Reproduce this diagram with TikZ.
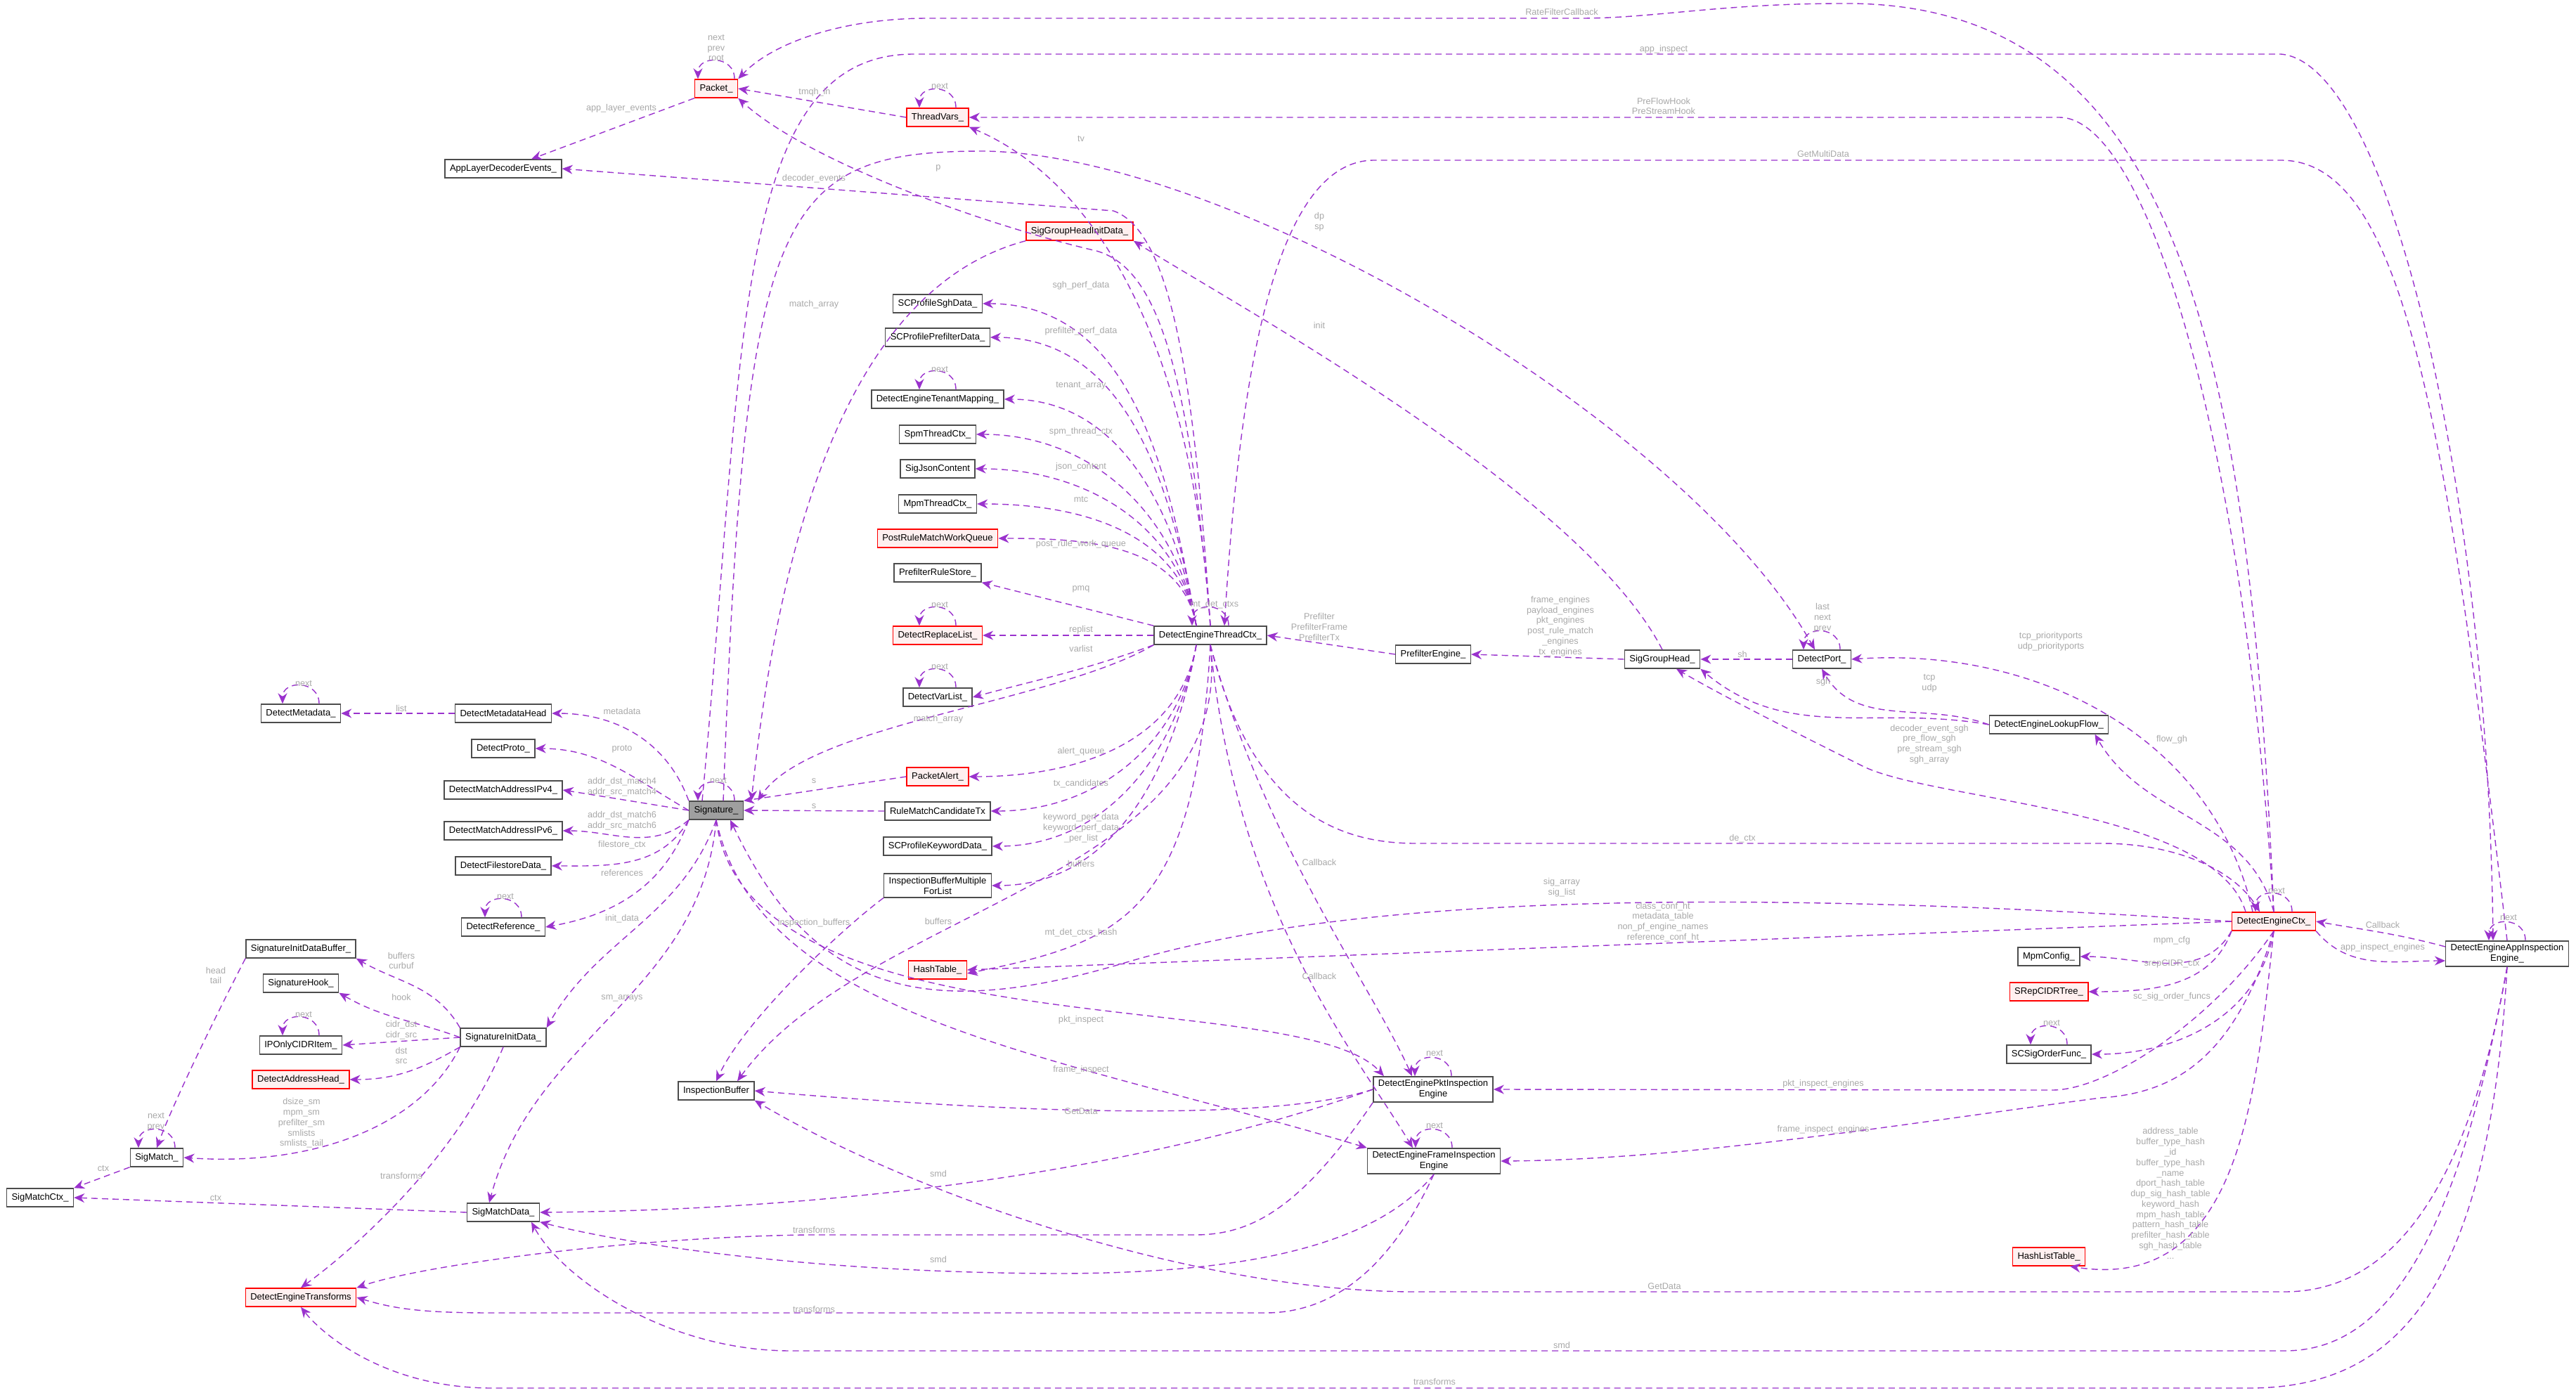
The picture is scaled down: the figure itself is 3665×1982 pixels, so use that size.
\documentclass[tikz,border=0pt]{standalone}
\usepackage{fontspec}
\setmainfont{Liberation Sans}
\usetikzlibrary{arrows.meta}
\definecolor{edgecol}{HTML}{9A32CD}
\definecolor{lblcol}{HTML}{A8A8A8}
\definecolor{redfill}{HTML}{FFF0F0}
\newcommand{\selfloop}[1]{\draw [arrow] ([xshift=2.6mm]#1.north) .. controls +(0mm,3.4mm) and +(0mm,3.4mm) .. ([xshift=-2.6mm]#1.north);}
\begin{document}
\begin{tikzpicture}[x=0.01cm,y=-0.01cm]

% Definitions
\tikzstyle{Struct} = [rectangle, draw=gray!60!black, fill=white, inner xsep=0.7mm, inner ysep=0.45mm, minimum height=2.6mm, align=center, font=\fontsize{3.7}{4.3}\selectfont]
\tikzstyle{RedStruct} = [Struct, draw=red, fill=redfill]
\tikzstyle{arrow} = [draw=edgecol, line width=0.14mm, dash pattern=on 0.9mm off 0.6mm, -{Stealth[length=1.5mm,width=1.3mm]}]
\tikzstyle{lbl} = [text=lblcol, align=center, inner sep=0pt, font=\fontsize{3.6}{4.2}\selectfont]

\useasboundingbox (0,0) rectangle (3665,1982);

% left column
\node (Pkt) [RedStruct] at (1019,126) {Packet\_};
\node (TV) [RedStruct] at (1334,167) {ThreadVars\_};
\node (ALDE) [Struct] at (716,240) {AppLayerDecoderEvents\_};
\node (SGHID) [RedStruct] at (1536,329) {SigGroupHeadInitData\_};
\node (SGHPD) [Struct] at (1334,432) {SCProfileSghData\_};
\node (SPPD) [Struct] at (1334,480) {SCProfilePrefilterData\_};
\node (DETM) [Struct] at (1334,568) {DetectEngineTenantMapping\_};
\node (Spm) [Struct] at (1334,618) {SpmThreadCtx\_};
\node (SJC) [Struct] at (1334,667) {SigJsonContent};
\node (Mpm) [Struct] at (1334,717) {MpmThreadCtx\_};
\node (PRMWQ) [RedStruct] at (1334,766) {PostRuleMatchWorkQueue};
\node (PRS) [Struct] at (1334,815) {PrefilterRuleStore\_};
\node (DRL) [RedStruct] at (1334,904) {DetectReplaceList\_};
\node (DVL) [Struct] at (1334,992) {DetectVarList\_};
\node (DETC) [Struct] at (1722,904) {DetectEngineThreadCtx\_};
\node (PA) [RedStruct] at (1334,1105) {PacketAlert\_};
\node (RMCT) [Struct] at (1334,1154) {RuleMatchCandidateTx};
\node (SPKD) [Struct] at (1334,1204) {SCProfileKeywordData\_};
\node (IBMFL) [Struct] at (1334,1260) {InspectionBufferMultiple\\ForList};
\node (HT) [RedStruct] at (1334,1380) {HashTable\_};

\node (Sig) [Struct, fill=gray!75] at (1019,1153) {Signature\_};
\node (DMH) [Struct] at (716,1015) {DetectMetadataHead};
\node (DM) [Struct] at (428,1015) {DetectMetadata\_};
\node (DP) [Struct] at (716,1065) {DetectProto\_};
\node (IP4) [Struct] at (716,1124) {DetectMatchAddressIPv4\_};
\node (IP6) [Struct] at (716,1182) {DetectMatchAddressIPv6\_};
\node (DFD) [Struct] at (716,1232) {DetectFilestoreData\_};
\node (DR) [Struct] at (716,1319) {DetectReference\_};
\node (SIDB) [Struct] at (428,1350) {SignatureInitDataBuffer\_};
\node (SH) [Struct] at (428,1399) {SignatureHook\_};
\node (IPO) [Struct] at (428,1487) {IPOnlyCIDRItem\_};
\node (DAH) [RedStruct] at (428,1536) {DetectAddressHead\_};
\node (SID) [Struct] at (716,1476) {SignatureInitData\_};
\node (SM) [Struct] at (223,1647) {SigMatch\_};
\node (SMC) [Struct] at (57,1704) {SigMatchCtx\_};
\node (SMD) [Struct] at (716,1725) {SigMatchData\_};
\node (DET) [RedStruct] at (428,1846) {DetectEngineTransforms};
\node (IB) [Struct] at (1019,1552) {InspectionBuffer};

% right part
\node (PE) [Struct] at (2039,931) {PrefilterEngine\_};
\node (SGH) [Struct] at (2365,938) {SigGroupHead\_};
\node (DPort) [Struct] at (2592,938) {DetectPort\_};
\node (DELF) [Struct] at (2915,1031) {DetectEngineLookupFlow\_};
\node (DEC) [RedStruct] at (3235,1311) {DetectEngineCtx\_};
\node (DEAIE) [Struct] at (3567,1357) {DetectEngineAppInspection\\Engine\_};
\node (MpmC) [Struct] at (2915,1361) {MpmConfig\_};
\node (SRep) [RedStruct] at (2915,1411) {SRepCIDRTree\_};
\node (SSOF) [Struct] at (2915,1500) {SCSigOrderFunc\_};
\node (HLT) [RedStruct] at (2915,1788) {HashListTable\_};
\node (DEPIE) [Struct] at (2039,1550) {DetectEnginePktInspection\\Engine};
\node (DEFIE) [Struct] at (2040,1652) {DetectEngineFrameInspection\\Engine};

% self loops
\foreach \n in {Pkt,TV,DETM,DRL,DVL,DM,DR,IPO,SM,Sig,DPort,DEC,DEAIE,DEPIE,DEFIE,SSOF,DETC}{
  \selfloop{\n}
}

% Packet / ThreadVars
\draw [arrow] (Pkt.south west) -- ([xshift=4mm]ALDE.north);
\draw [arrow] (TV.west) -- (Pkt.east);
\draw [arrow] (DETC.north) .. controls (1690,500) and (1640,380) .. (1560,357) .. controls (1400,320) and (1150,230) .. (Pkt.south east);
\draw [arrow] (DETC.north) .. controls (1690,420) and (1520,240) .. (TV.south east);
\draw [arrow] (DETC.north) .. controls (1700,560) and (1670,330) .. (1584,300) -- (ALDE.east);
\draw [arrow] (SGH.north) .. controls (2250,700) and (1750,430) .. (SGHID.south east);
\draw [arrow] (SGHID.south west) .. controls (1300,385) and (1130,560) .. ([xshift=5mm]Sig.north);

% thread ctx members
\foreach \n in {SGHPD,SPPD,DETM,Spm,SJC,Mpm,PRMWQ}{
  \draw [arrow] ([xshift=-2mm]DETC.north) to[out=100,in=0] (\n.east);
}
\draw [arrow] (DETC.north west) -- (PRS.south east);
\draw [arrow] (DETC.west) -- (DRL.east);
\draw [arrow] (DETC.south west) to[out=200,in=15] (DVL.east);
\foreach \n in {PA,RMCT,SPKD,IBMFL}{
  \draw [arrow] ([xshift=-2mm]DETC.south) to[out=-100,in=0] (\n.east);
}
\draw [arrow] (DETC.south) .. controls (1700,1300) and (1600,1340) .. ([yshift=-0.5mm]HT.east);
\draw [arrow] (DETC.south west) .. controls (1500,1000) and (1150,1030) .. ([xshift=2mm]Sig.north east);
\draw [arrow] (PA.west) -- (Sig.north east);
\draw [arrow] (RMCT.west) -- (Sig.east);
\draw [arrow] (DETC.south) .. controls (1760,1250) and (1230,1290) .. ([xshift=3mm]IB.north);
\draw [arrow] (IBMFL.south west) .. controls (1200,1320) and (1060,1450) .. (IB.north);

% signature members
\draw [arrow] (Sig.north west) to[out=110,in=0] (DMH.east);
\draw [arrow] (DMH.west) -- (DM.east);
\draw [arrow] (Sig.west) to[out=150,in=0] (DP.east);
\draw [arrow] (Sig.west) -- (IP4.east);
\draw [arrow] (Sig.south west) to[out=220,in=0] (IP6.east);
\draw [arrow] (Sig.south west) to[out=240,in=0] (DFD.east);
\draw [arrow] (Sig.south west) to[out=250,in=10] (DR.east);
\draw [arrow] (Sig.south) to[out=250,in=60] (SID.north east);
\draw [arrow] (Sig.south) to[out=265,in=75] ([xshift=-2mm]SMD.north);
\draw [arrow] (Sig.south) .. controls (1060,1500) and (1850,1400) .. ([xshift=-7mm]DEPIE.north);
\draw [arrow] (Sig.south) .. controls (1080,1450) and (1500,1500) .. (DEFIE.north west);
\draw [arrow] ([xshift=-2mm]Sig.north) .. controls (1060,500) and (1040,77) .. (1300,77) -- (3245,77) .. controls (3400,90) and (3540,700) .. ([xshift=-2mm]DEAIE.north);
\draw [arrow] ([xshift=1mm]Sig.north) .. controls (1060,300) and (1100,215) .. (1400,215) .. controls (1750,220) and (2400,600) .. ([xshift=-1mm]DPort.north);

% init data
\draw [arrow] (SID.north west) to[out=120,in=-30] (SIDB.south east);
\draw [arrow] (SID.west) to[out=160,in=-30] (SH.south east);
\draw [arrow] (SID.west) -- (IPO.east);
\draw [arrow] (SID.south west) to[out=210,in=0] (DAH.east);
\draw [arrow] (SID.south west) .. controls (600,1600) and (450,1660) .. (SM.east);
\draw [arrow] (SID.south) .. controls (650,1650) and (500,1780) .. (DET.north);
\draw [arrow] (SIDB.south west) .. controls (320,1420) and (250,1560) .. (SM.north);
\draw [arrow] (SM.south west) -- (SMC.north east);
\draw [arrow] (SMD.west) -- (SMC.east);

% engine ctx
\draw [arrow] (DEC.north) .. controls (3200,500) and (3100,0) .. (2620,5) .. controls (2450,5) and (2350,26) .. (2250,26) -- (1320,26) .. controls (1200,26) and (1100,60) .. (Pkt.north east);
\draw [arrow] (DEC.north) .. controls (3190,600) and (3050,167) .. (2930,167) -- (TV.east);
\draw [arrow] (DEAIE.north) .. controls (3480,600) and (3420,228) .. (3245,228) -- (1955,228) .. controls (1800,228) and (1760,600) .. ([xshift=2mm]DETC.north);
\draw [arrow] (DETC.south) .. controls (1780,1150) and (1900,1200) .. (2014,1200) -- (2990,1200) .. controls (3100,1200) and (3180,1240) .. ([xshift=-2mm]DEC.north);
\draw [arrow] (DEC.west) .. controls (2400,1260) and (1900,1280) .. (1600,1370) .. controls (1300,1460) and (1150,1400) .. ([xshift=2mm]Sig.south);
\draw [arrow] (DEC.west) -- (HT.east);
\draw [arrow] ([xshift=-4mm]DEC.north) .. controls (3150,1150) and (2750,1140) .. (2650,1090) .. controls (2550,1040) and (2450,990) .. ([xshift=2mm]SGH.south);
\draw [arrow] (DELF.west) to[out=170,in=-40] (SGH.south east);
\draw [arrow] (DELF.west) to[out=160,in=-60] (DPort.south);
\draw [arrow] (DPort.west) -- (SGH.east);
\draw [arrow] (SGH.west) -- (PE.east);
\draw [arrow] (PE.west) -- (DETC.east);
\draw [arrow] ([xshift=-3mm]DEC.north) .. controls (3150,1050) and (2900,920) .. (DPort.east);
\draw [arrow] (DEC.north) to[out=105,in=-60] ([xshift=-2mm]DELF.south east);
\draw [arrow] (DEC.south west) to[out=240,in=0] (MpmC.east);
\draw [arrow] (DEC.south west) to[out=250,in=0] (SRep.east);
\draw [arrow] (DEC.south) to[out=260,in=0] (SSOF.east);
\draw [arrow] (DEC.south) .. controls (3150,1450) and (3000,1551) .. (2920,1551) -- (DEPIE.east);
\draw [arrow] (DEC.south) .. controls (3180,1500) and (3100,1555) .. (2989,1562) .. controls (2700,1600) and (2400,1650) .. (DEFIE.east);
\draw [arrow] (DEC.south) .. controls (3210,1550) and (3190,1840) .. ([xshift=3mm]HLT.south);
\draw [arrow] (DEC.south east) to[out=-50,in=180] ([yshift=-1mm]DEAIE.west);
\draw [arrow] ([yshift=1mm]DEAIE.west) to[out=165,in=-10] (DEC.east);

% inspection engines
\draw [arrow] (DEAIE.south) .. controls (3510,1700) and (3400,1838) .. (3250,1838) -- (2014,1838) .. controls (1700,1838) and (1300,1700) .. (IB.south east);
\draw [arrow] (DEAIE.south) .. controls (3490,1800) and (3380,1922) .. (3250,1922) -- (1125,1922) .. controls (950,1922) and (800,1820) .. ([xshift=4mm]SMD.south);
\draw [arrow] (DEAIE.south) .. controls (3540,1850) and (3400,1975) .. (3200,1975) -- (700,1975) .. controls (550,1975) and (460,1900) .. (DET.south);
\draw [arrow] (DEPIE.west) .. controls (1800,1600) and (1400,1580) .. (IB.east);
\draw [arrow] (DEPIE.west) .. controls (1700,1640) and (1300,1720) .. (SMD.east);
\draw [arrow] (DEPIE.south west) .. controls (1850,1720) and (1780,1757) .. (1700,1757) -- (1150,1757) .. controls (900,1760) and (600,1800) .. (DET.north east);
\draw [arrow] (DEFIE.south) .. controls (1950,1780) and (1750,1812) .. (1500,1812) .. controls (1100,1810) and (850,1760) .. (SMD.south east);
\draw [arrow] (DEFIE.south) .. controls (1980,1800) and (1900,1868) .. (1800,1868) -- (700,1868) .. controls (600,1868) and (560,1862) .. (DET.east);
\draw [arrow] (DETC.south) .. controls (1800,1200) and (1950,1400) .. ([xshift=-3mm]DEPIE.north);
\draw [arrow] (DETC.south) .. controls (1760,1300) and (1930,1500) .. ([xshift=-3mm]DEFIE.north);

% labels
\node (l1) [lbl] at (1019,68) {next\\prev\\root};
\node (l2) [lbl] at (884,154) {app\_layer\_events};
\node (l3) [lbl] at (1159,131) {tmqh\_in};
\node (l4) [lbl] at (1337,122) {next};
\node (l5) [lbl] at (1538,197) {tv};
\node (l6) [lbl] at (1335,239) {p};
\node (l7) [lbl] at (1158,254) {decoder\_events};
\node (l8) [lbl] at (1158,433) {match\_array};
\node (l9) [lbl] at (1538,406) {sgh\_perf\_data};
\node (l10) [lbl] at (1538,471) {prefilter\_perf\_data};
\node (l11) [lbl] at (1337,525) {next};
\node (l12) [lbl] at (1538,549) {tenant\_array};
\node (l13) [lbl] at (1538,614) {spm\_thread\_ctx};
\node (l14) [lbl] at (1538,664) {json\_content};
\node (l15) [lbl] at (1538,710) {mtc};
\node (l16) [lbl] at (1538,774) {post\_rule\_work\_queue};
\node (l17) [lbl] at (1538,838) {pmq};
\node (l18) [lbl] at (1728,860) {mt\_det\_ctxs};
\node (l19) [lbl] at (1337,860) {next};
\node (l20) [lbl] at (1538,896) {replist};
\node (l21) [lbl] at (1538,923) {varlist};
\node (l22) [lbl] at (1337,948) {next};
\node (l23) [lbl] at (432,972) {next};
\node (l24) [lbl] at (571,1008) {list};
\node (l25) [lbl] at (885,1012) {metadata};
\node (l26) [lbl] at (1335,1023) {match\_array};
\node (l27) [lbl] at (885,1066) {proto};
\node (l28) [lbl] at (1538,1069) {alert\_queue};
\node (l29) [lbl] at (1022,1110) {next};
\node (l30) [lbl] at (1158,1111) {s};
\node (l31) [lbl] at (1538,1115) {tx\_candidates};
\node (l32) [lbl] at (885,1120) {addr\_dst\_match4\\addr\_src\_match4};
\node (l33) [lbl] at (1158,1147) {s};
\node (l34) [lbl] at (1538,1178) {keyword\_perf\_data\\keyword\_perf\_data\\\_per\_list};
\node (l35) [lbl] at (885,1168) {addr\_dst\_match6\\addr\_src\_match6};
\node (l36) [lbl] at (885,1202) {filestore\_ctx};
\node (l37) [lbl] at (1538,1229) {buffers};
\node (l38) [lbl] at (885,1242) {references};
\node (l39) [lbl] at (719,1275) {next};
\node (l40) [lbl] at (885,1307) {init\_data};
\node (l41) [lbl] at (1158,1313) {inspection\_buffers};
\node (l42) [lbl] at (1335,1311) {buffers};
\node (l43) [lbl] at (1538,1327) {mt\_det\_ctxs\_hash};
\node (l44) [lbl] at (571,1367) {buffers\\curbuf};
\node (l45) [lbl] at (307,1388) {head\\tail};
\node (l46) [lbl] at (571,1419) {hook};
\node (l47) [lbl] at (885,1420) {sm\_arrays};
\node (l48) [lbl] at (432,1443) {next};
\node (l49) [lbl] at (1538,1451) {pkt\_inspect};
\node (l50) [lbl] at (571,1466) {cidr\_dst\\cidr\_src};
\node (l51) [lbl] at (571,1502) {dst\\src};
\node (l52) [lbl] at (1538,1522) {frame\_inspect};
\node (l53) [lbl] at (429,1598) {dsize\_sm\\mpm\_sm\\prefilter\_sm\\smlists\\smlists\_tail};
\node (l54) [lbl] at (222,1596) {next\\prev};
\node (l55) [lbl] at (1538,1581) {GetData};
\node (l56) [lbl] at (147,1662) {ctx};
\node (l57) [lbl] at (1335,1670) {smd};
\node (l58) [lbl] at (571,1673) {transforms};
\node (l59) [lbl] at (307,1704) {ctx};
\node (l60) [lbl] at (1158,1750) {transforms};
\node (l61) [lbl] at (1335,1792) {smd};
\node (l62) [lbl] at (1158,1863) {transforms};
\node (l63) [lbl] at (2222,17) {RateFilterCallback};
\node (l64) [lbl] at (2367,70) {app\_inspect};
\node (l65) [lbl] at (2367,151) {PreFlowHook\\PreStreamHook};
\node (l66) [lbl] at (2594,219) {GetMultiData};
\node (l67) [lbl] at (1877,316) {dp\\sp};
\node (l68) [lbl] at (1877,463) {init};
\node (l69) [lbl] at (1877,892) {Prefilter\\PrefilterFrame\\PrefilterTx};
\node (l70) [lbl] at (2220,891) {frame\_engines\\payload\_engines\\pkt\_engines\\post\_rule\_match\\\_engines\\tx\_engines};
\node (l71) [lbl] at (2593,879) {last\\next\\prev};
\node (l72) [lbl] at (2479,931) {sh};
\node (l73) [lbl] at (2918,913) {tcp\_priorityports\\udp\_priorityports};
\node (l74) [lbl] at (2594,970) {sgh};
\node (l75) [lbl] at (2745,972) {tcp\\udp};
\node (l76) [lbl] at (2745,1059) {decoder\_event\_sgh\\pre\_flow\_sgh\\pre\_stream\_sgh\\sgh\_array};
\node (l77) [lbl] at (3090,1052) {flow\_gh};
\node (l78) [lbl] at (2479,1193) {de\_ctx};
\node (l79) [lbl] at (1877,1227) {Callback};
\node (l80) [lbl] at (2222,1263) {sig\_array\\sig\_list};
\node (l81) [lbl] at (2366,1312) {class\_conf\_ht\\metadata\_table\\non\_pf\_engine\_names\\reference\_conf\_ht};
\node (l82) [lbl] at (3239,1267) {next};
\node (l83) [lbl] at (3390,1316) {Callback};
\node (l84) [lbl] at (3569,1305) {next};
\node (l85) [lbl] at (3090,1338) {mpm\_cfg};
\node (l86) [lbl] at (3390,1348) {app\_inspect\_engines};
\node (l87) [lbl] at (3090,1371) {srepCIDR\_ctx};
\node (l88) [lbl] at (1877,1389) {Callback};
\node (l89) [lbl] at (3090,1418) {sc\_sig\_order\_funcs};
\node (l90) [lbl] at (2919,1455) {next};
\node (l91) [lbl] at (2041,1498) {next};
\node (l92) [lbl] at (2594,1542) {pkt\_inspect\_engines};
\node (l93) [lbl] at (2594,1607) {frame\_inspect\_engines};
\node (l94) [lbl] at (2041,1601) {next};
\node (l95) [lbl] at (3088,1698) {address\_table\\buffer\_type\_hash\\\_id\\buffer\_type\_hash\\\_name\\dport\_hash\_table\\dup\_sig\_hash\_table\\keyword\_hash\\mpm\_hash\_table\\pattern\_hash\_table\\prefilter\_hash\_table\\sgh\_hash\_table\\...};
\node (l96) [lbl] at (2368,1830) {GetData};
\node (l97) [lbl] at (2222,1914) {smd};
\node (l98) [lbl] at (2041,1966) {transforms};

\end{tikzpicture}
\end{document}
